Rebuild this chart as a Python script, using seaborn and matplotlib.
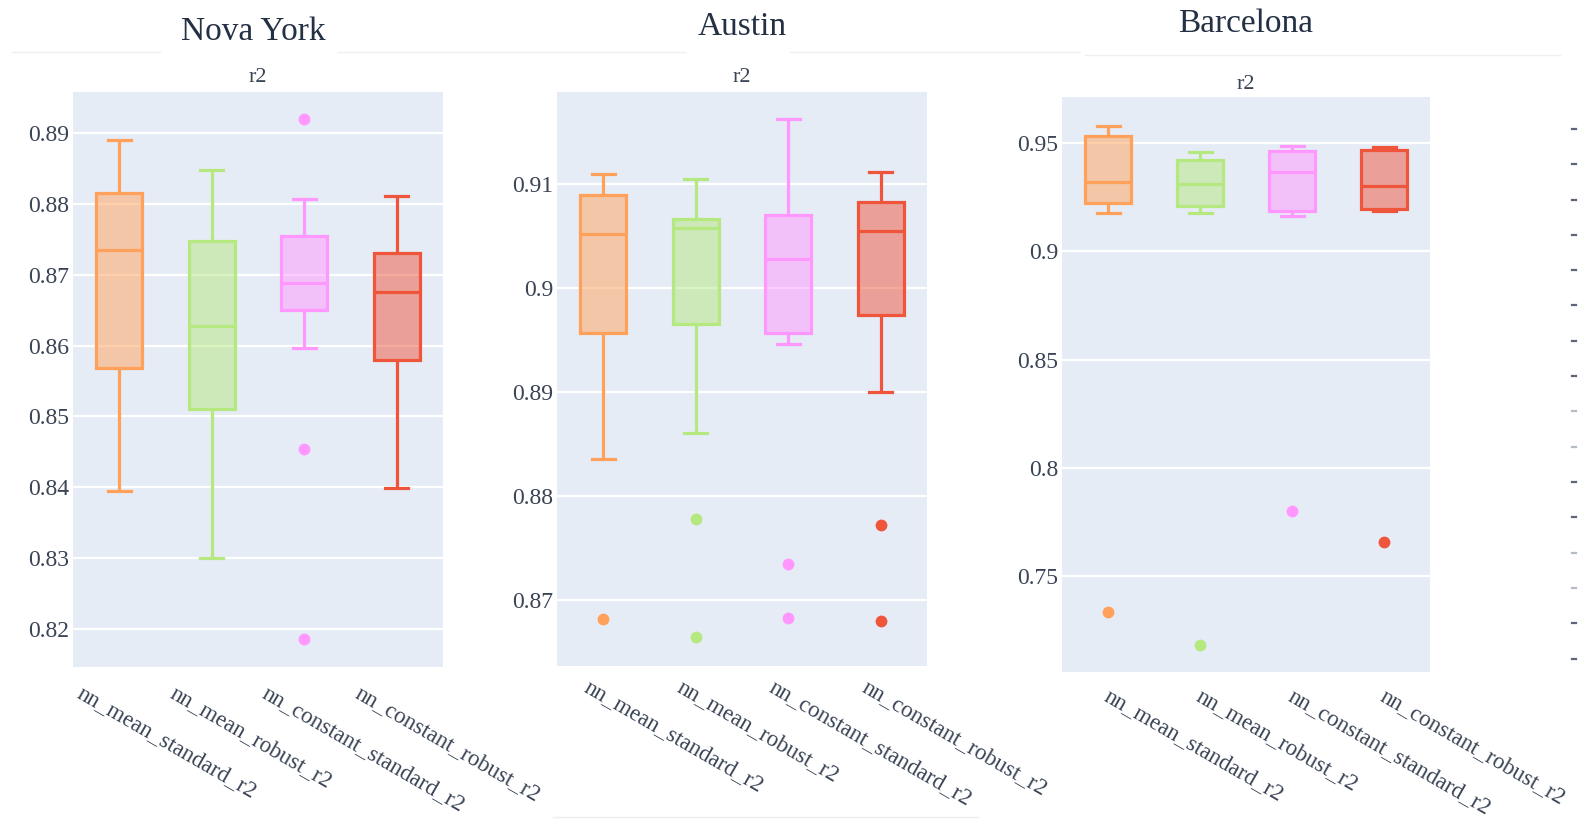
import matplotlib
matplotlib.use("Agg")
import matplotlib.pyplot as plt
from matplotlib.transforms import ScaledTranslation
from matplotlib.lines import Line2D
import seaborn as sns
import pandas as pd

plt.rcParams["font.family"] = ["Liberation Serif", "DejaVu Serif"]

MODELS = ["nn_mean_standard_r2", "nn_mean_robust_r2",
          "nn_constant_standard_r2", "nn_constant_robust_r2"]
COLORS = ["#FFA15A", "#B6E880", "#FF97FF", "#EF553B"]

# r2 scores per model -- Nova York
NY_MEAN_STANDARD = [0.8395, 0.8568, 0.8735, 0.8815, 0.8890]
NY_MEAN_ROBUST = [0.8300, 0.8511, 0.8628, 0.8747, 0.8848]
NY_CONSTANT_STANDARD = [0.8186, 0.8454, 0.8597, 0.8650, 0.8665, 0.8680, 0.8688,
                        0.8705, 0.8730, 0.8755, 0.8780, 0.8807, 0.8920]
NY_CONSTANT_ROBUST = [0.8399, 0.8580, 0.8676, 0.8730, 0.8811]

# r2 scores per model -- Austin
AU_MEAN_STANDARD = [0.8682, 0.8836, 0.8957, 0.9010, 0.9052, 0.9075, 0.9090, 0.9100, 0.9110]
AU_MEAN_ROBUST = [0.8664, 0.8778, 0.8861, 0.8966, 0.8990, 0.9030, 0.9058,
                  0.9061, 0.9064, 0.9067, 0.9080, 0.9095, 0.9105]
AU_CONSTANT_STANDARD = [0.8683, 0.8735, 0.8946, 0.8957, 0.8980, 0.9005, 0.9028,
                        0.9045, 0.9060, 0.9070, 0.9100, 0.9130, 0.9163]
AU_CONSTANT_ROBUST = [0.8680, 0.8772, 0.8900, 0.8974, 0.9000, 0.9030, 0.9055,
                      0.9065, 0.9075, 0.9083, 0.9095, 0.9105, 0.9112]

# r2 scores per model -- Barcelona
BC_MEAN_STANDARD = [0.7335, 0.9176, 0.9222, 0.9270, 0.9322, 0.9420, 0.9531, 0.9560, 0.9580]
BC_MEAN_ROBUST = [0.7184, 0.9176, 0.9208, 0.9260, 0.9312, 0.9370, 0.9423, 0.9440, 0.9458]
BC_CONSTANT_STANDARD = [0.7802, 0.9162, 0.9188, 0.9280, 0.9366, 0.9420, 0.9461, 0.9475, 0.9488]
BC_CONSTANT_ROBUST = [0.7660, 0.9185, 0.9194, 0.9250, 0.9300, 0.9400, 0.9466, 0.9472, 0.9480]

CITIES = ["Nova York", "Austin", "Barcelona"]

NY_TICKS = [0.82, 0.83, 0.84, 0.85, 0.86, 0.87, 0.88, 0.89]
NY_TICK_LABELS = ["0.82", "0.83", "0.84", "0.85", "0.86", "0.87", "0.88", "0.89"]
AU_TICKS = [0.87, 0.88, 0.89, 0.90, 0.91]
AU_TICK_LABELS = ["0.87", "0.88", "0.89", "0.9", "0.91"]
BC_TICKS = [0.75, 0.80, 0.85, 0.90, 0.95]
BC_TICK_LABELS = ["0.75", "0.8", "0.85", "0.9", "0.95"]

NY_RANGE = (0.81464, 0.89579)
AU_RANGE = (0.86365, 0.91888)
BC_RANGE = (0.70578, 0.97126)

W, H = 1581, 821
TEXT = "#3a4455"
HEAD = "#243044"
BG = "#E5ECF6"

fig = plt.figure(figsize=(W / 100, H / 100), dpi=100)
fig.patch.set_facecolor("white")


def px_rect(x0, y0, x1, y1):
    return [x0 / W, 1 - y1 / H, (x1 - x0) / W, (y1 - y0) / H]


def fig_line(x0, y0, x1, y1, color="#efefef", lw=1.0):
    fig.add_artist(Line2D([x0 / W, x1 / W], [1 - y0 / H, 1 - y1 / H],
                          transform=fig.transFigure, color=color, lw=lw))


def draw_panel(ax, series, ticks, tick_labels, yrange, dx, dy, title_pad):
    df = pd.DataFrame({
        "model": [m for m, vals in zip(MODELS, series) for _ in vals],
        "r2": [v for vals in series for v in vals],
    })
    for model, color in zip(MODELS, COLORS):
        sns.boxplot(
            data=df[df["model"] == model], x="model", y="r2", order=MODELS,
            color=color, linecolor=color, saturation=1, width=0.5,
            linewidth=2.3, fliersize=8.5,
            flierprops=dict(marker="o", markerfacecolor=color,
                            markeredgecolor=color, markeredgewidth=0),
            ax=ax,
        )
    # translucent fill in the outline colour
    for patch in ax.patches:
        ec = patch.get_edgecolor()
        patch.set_facecolor((ec[0], ec[1], ec[2], 0.5))

    ax.set_facecolor(BG)
    for s in ax.spines.values():
        s.set_visible(False)
    ax.set_ylim(*yrange)
    ax.set_yticks(ticks)
    ax.set_yticklabels(tick_labels)
    ax.yaxis.grid(True, color="white", linewidth=1.6)
    ax.xaxis.grid(False)
    ax.set_axisbelow(True)
    ax.set_xlabel("")
    ax.set_ylabel("")
    ax.tick_params(axis="y", length=0, pad=2.5, labelsize=17, labelcolor=TEXT)
    ax.tick_params(axis="x", length=0, pad=0, labelsize=16.5, labelcolor=TEXT)
    ax.set_xticks(range(len(MODELS)))
    ax.set_xticklabels(MODELS, rotation=-30, ha="left", va="top",
                       rotation_mode="anchor")
    ax.set_title("r2", fontsize=16, color=TEXT, pad=title_pad)
    shift = ScaledTranslation(dx / 100, -dy / 100, fig.dpi_scale_trans)
    for lbl in ax.get_xticklabels():
        lbl.set_transform(lbl.get_transform() + shift)


ax_ny = fig.add_axes(px_rect(73, 92, 443, 667))
draw_panel(ax_ny, [NY_MEAN_STANDARD, NY_MEAN_ROBUST, NY_CONSTANT_STANDARD, NY_CONSTANT_ROBUST],
           NY_TICKS, NY_TICK_LABELS, NY_RANGE, dx=-35, dy=16, title_pad=7)

ax_au = fig.add_axes(px_rect(557, 92, 927, 666))
draw_panel(ax_au, [AU_MEAN_STANDARD, AU_MEAN_ROBUST, AU_CONSTANT_STANDARD, AU_CONSTANT_ROBUST],
           AU_TICKS, AU_TICK_LABELS, AU_RANGE, dx=-12, dy=11, title_pad=7)

ax_bc = fig.add_axes(px_rect(1062, 97, 1430, 672))
draw_panel(ax_bc, [BC_MEAN_STANDARD, BC_MEAN_ROBUST, BC_CONSTANT_STANDARD, BC_CONSTANT_ROBUST],
           BC_TICKS, BC_TICK_LABELS, BC_RANGE, dx=3, dy=14, title_pad=6)

# city headings
for name, (x, y) in zip(CITIES, [(253, 39.5), (742, 35), (1246, 31.5)]):
    fig.text(x / W, 1 - y / H, name, ha="center", va="baseline",
             fontsize=24, color=HEAD)

# faint panel separators
fig_line(12, 52.5, 160, 52.5)
fig_line(338, 52.5, 685, 52.5)
fig_line(790, 52.5, 1080, 52.5)
fig_line(1085, 55, 1560, 55)
fig_line(553, 817, 978, 817)

# edge of a neighbouring axis
edge_y = [129 + 35.3 * k for k in range(16)]
edge_c = ["#5b6578"] * 16
for k in (8, 9, 12, 13):
    edge_c[k] = "#b5bcc8"
for y, c in zip(edge_y, edge_c):
    fig_line(1572, y, 1576, y, color=c, lw=1.6)

fig.savefig("out.png", dpi=100, facecolor="white")
